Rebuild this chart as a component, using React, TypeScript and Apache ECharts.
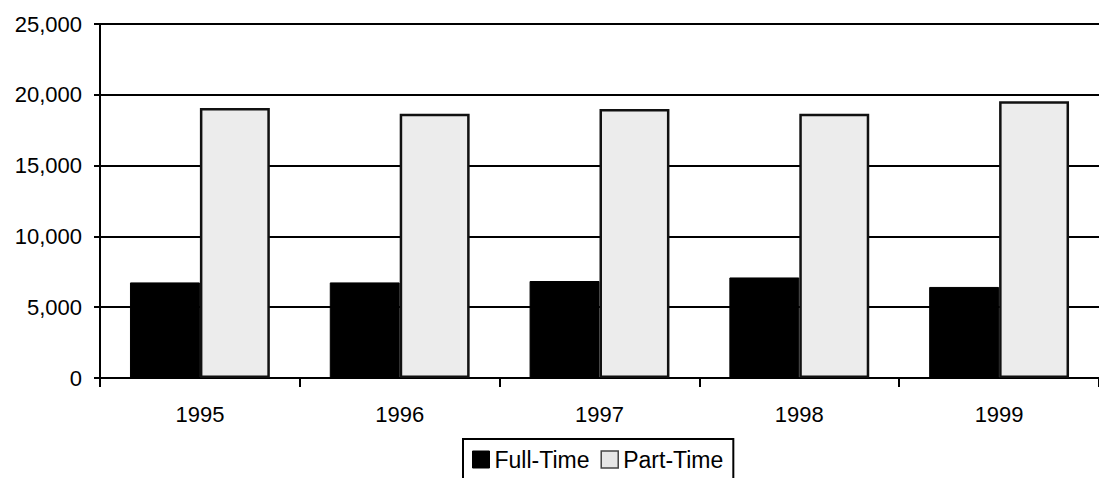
import React, { useEffect, useRef } from "react";
import * as echarts from "echarts";

const years = ["1995", "1996", "1997", "1998", "1999"];
const fullTime = [6750, 6750, 6850, 7100, 6430];
const partTime = [19070, 18660, 19000, 18660, 19540];
const yTicks = { min: 0, max: 25000, interval: 5000 };

export default function App() {
  const ref = useRef<HTMLDivElement>(null);
  useEffect(() => {
    document.body.style.margin = "0";
    const chart = echarts.init(ref.current!, null, { renderer: "svg" });
    const font = "Liberation Sans, Arial, sans-serif";
    chart.setOption({
      animation: false,
      backgroundColor: "#ffffff",
      textStyle: { fontFamily: font, color: "#000" },
      grid: { left: 100, right: -2, top: 24, bottom: 100 },
      legend: {
        left: 463,
        top: 439,
        orient: "horizontal",
        icon: "rect",
        itemWidth: 17,
        itemHeight: 17,
        itemGap: 11,
        padding: [9, 10, 9, 9],
        borderColor: "#000",
        borderWidth: 2,
        borderRadius: 0,
        textStyle: { fontFamily: font, fontSize: 23, color: "#000" },
        data: [
          { name: "Full-Time", itemStyle: { color: "#000", borderColor: "#000", borderWidth: 1 } },
          { name: "Part-Time", itemStyle: { color: "#e6e6e6", borderColor: "#444", borderWidth: 1.5 } },
        ],
      },
      xAxis: {
        type: "category",
        data: years,
        boundaryGap: true,
        axisLine: { lineStyle: { color: "#000", width: 2 } },
        axisTick: { show: true, length: 9, inside: false, lineStyle: { color: "#000", width: 2 } },
        axisLabel: { fontFamily: font, fontSize: 22, color: "#000", margin: 25 },
      },
      yAxis: {
        type: "value",
        min: yTicks.min,
        max: yTicks.max,
        interval: yTicks.interval,
        axisLine: { show: true, lineStyle: { color: "#000", width: 2 } },
        axisTick: { show: true, length: 6, lineStyle: { color: "#000", width: 2 } },
        axisLabel: {
          fontFamily: font,
          fontSize: 22,
          color: "#000",
          margin: 18,
          formatter: (v: number) => v.toLocaleString("en-US"),
        },
        splitLine: { show: true, lineStyle: { color: "#000", width: 2 } },
      },
      series: [
        {
          name: "Full-Time",
          type: "bar",
          data: fullTime,
          barGap: "0%",
          barCategoryGap: "30%",
          itemStyle: { color: "#000", borderColor: "#000", borderWidth: 1 },
        },
        {
          name: "Part-Time",
          type: "bar",
          data: partTime,
          barGap: "0%",
          barCategoryGap: "30%",
          itemStyle: { color: "#ececec", borderColor: "#111", borderWidth: 2.5 },
        },
      ],
    });
    return () => chart.dispose();
  }, []);
  return (
    <div
      ref={ref}
      style={{ position: "fixed", left: 0, top: 0, width: 1099, height: 478 }}
    />
  );
}
